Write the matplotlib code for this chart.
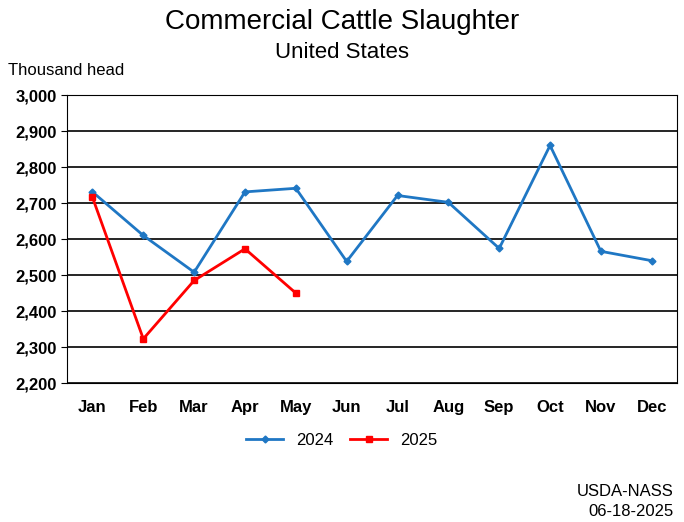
import matplotlib
matplotlib.use("Agg")
import matplotlib.pyplot as plt

plt.rcParams["font.family"] = "Liberation Sans"

months = ["Jan", "Feb", "Mar", "Apr", "May", "Jun", "Jul", "Aug", "Sep", "Oct", "Nov", "Dec"]
head_2024 = [2731, 2610, 2508, 2731, 2741, 2538, 2721, 2702, 2574, 2860, 2566, 2540]
head_2025 = [2716, 2323, 2485, 2573, 2450]

fig = plt.figure(figsize=(6.84, 5.22), dpi=100)
ax = fig.add_axes([0.098, 0.266, 0.892, 0.552])

x = range(len(months))
ax.plot(x, head_2024, color="#1f77c4", marker="D", markersize=3.5, lw=2, label="2024")
ax.plot(range(len(head_2025)), head_2025, color="#ff0000", marker="s", markersize=5, lw=2, label="2025")

ax.set_xlim(-0.5, 11.5)
ax.set_ylim(2200, 3000)
ax.set_yticks(range(2200, 3001, 100))
ax.set_yticklabels([f"{v:,}" for v in range(2200, 3001, 100)], fontweight="bold", fontsize=12)
ax.set_xticks(list(x))
ax.set_xticklabels(months, fontweight="bold", fontsize=12)
ax.tick_params(axis="x", length=0, pad=12)
ax.tick_params(axis="y", length=4)
ax.yaxis.grid(True, color="black", lw=1.2)
ax.set_axisbelow(True)
for s in ax.spines.values():
    s.set_color("black")

fig.text(0.5, 0.958, "Commercial Cattle Slaughter", ha="center", va="center", fontsize=20)
fig.text(0.5, 0.9, "United States", ha="center", va="center", fontsize=16)
fig.text(0.012, 0.865, "Thousand head", ha="left", va="center", fontsize=12)
fig.text(0.985, 0.058, "USDA-NASS", ha="right", va="center", fontsize=12)
fig.text(0.985, 0.02, "06-18-2025", ha="right", va="center", fontsize=12)

fig.legend(loc="center", bbox_to_anchor=(0.5, 0.157), ncol=2, frameon=False,
           fontsize=12, handlelength=2.2, columnspacing=1.0)

fig.savefig("out.png", dpi=100)
